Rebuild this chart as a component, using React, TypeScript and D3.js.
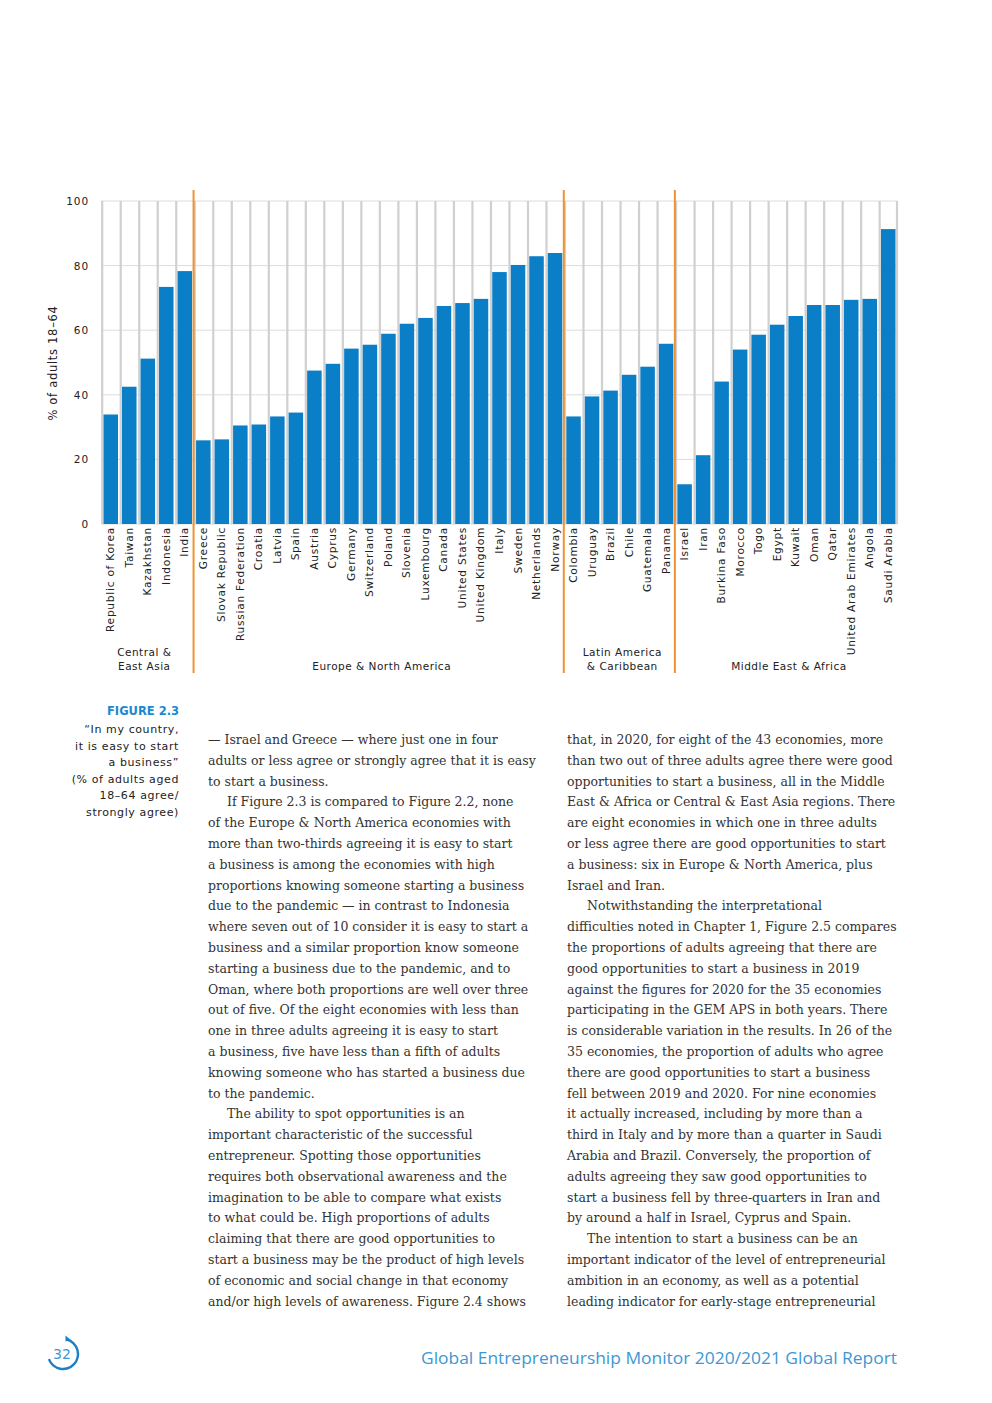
import React from "react";
import * as d3 from "d3";

const countries = [
  "Republic of Korea", "Taiwan", "Kazakhstan", "Indonesia", "India",
  "Greece", "Slovak Republic", "Russian Federation", "Croatia", "Latvia", "Spain", "Austria", "Cyprus", "Germany", "Switzerland", "Poland", "Slovenia", "Luxembourg", "Canada", "United States", "United Kingdom", "Italy", "Sweden", "Netherlands", "Norway",
  "Colombia", "Uruguay", "Brazil", "Chile", "Guatemala", "Panama",
  "Israel", "Iran", "Burkina Faso", "Morocco", "Togo", "Egypt", "Kuwait", "Oman", "Qatar", "United Arab Emirates", "Angola", "Saudi Arabia",
];
const values = [
  33.9, 42.5, 51.2, 73.4, 78.3,
  25.9, 26.2, 30.5, 30.8, 33.3, 34.5, 47.5, 49.6, 54.3, 55.5, 58.9, 62.0, 63.8, 67.5, 68.4, 69.7, 78.0, 80.2, 82.9, 83.9,
  33.3, 39.5, 41.3, 46.2, 48.7, 55.8,
  12.3, 21.3, 44.1, 54.0, 58.6, 61.7, 64.4, 67.8, 67.8, 69.4, 69.7, 91.3,
];
const regionCounts = [5, 20, 6, 12];
const regionLabels = [["Central &", "East Asia"], ["Europe & North America"], ["Latin America", "& Caribbean"], ["Middle East & Africa"]];
const yTicks = [0, 20, 40, 60, 80, 100];
const yTitle = "% of adults 18–64";

const captionTitle = "FIGURE 2.3";
const captionLines = ["\u201CIn my country,", "it is easy to start", "a business\u201D", "(% of adults aged", "18–64 agree/", "strongly agree)"];

const col1 = [
  "— Israel and Greece — where just one in four",
  "adults or less agree or strongly agree that it is easy",
  "to start a business.",
  "\tIf Figure 2.3 is compared to Figure 2.2, none",
  "of the Europe & North America economies with",
  "more than two-thirds agreeing it is easy to start",
  "a business is among the economies with high",
  "proportions knowing someone starting a business",
  "due to the pandemic — in contrast to Indonesia",
  "where seven out of 10 consider it is easy to start a",
  "business and a similar proportion know someone",
  "starting a business due to the pandemic, and to",
  "Oman, where both proportions are well over three",
  "out of five. Of the eight economies with less than",
  "one in three adults agreeing it is easy to start",
  "a business, five have less than a fifth of adults",
  "knowing someone who has started a business due",
  "to the pandemic.",
  "\tThe ability to spot opportunities is an",
  "important characteristic of the successful",
  "entrepreneur. Spotting those opportunities",
  "requires both observational awareness and the",
  "imagination to be able to compare what exists",
  "to what could be. High proportions of adults",
  "claiming that there are good opportunities to",
  "start a business may be the product of high levels",
  "of economic and social change in that economy",
  "and/or high levels of awareness. Figure 2.4 shows",
];
const col2 = [
  "that, in 2020, for eight of the 43 economies, more",
  "than two out of three adults agree there were good",
  "opportunities to start a business, all in the Middle",
  "East & Africa or Central & East Asia regions. There",
  "are eight economies in which one in three adults",
  "or less agree there are good opportunities to start",
  "a business: six in Europe & North America, plus",
  "Israel and Iran.",
  "\tNotwithstanding the interpretational",
  "difficulties noted in Chapter 1, Figure 2.5 compares",
  "the proportions of adults agreeing that there are",
  "good opportunities to start a business in 2019",
  "against the figures for 2020 for the 35 economies",
  "participating in the GEM APS in both years. There",
  "is considerable variation in the results. In 26 of the",
  "35 economies, the proportion of adults who agree",
  "there are good opportunities to start a business",
  "fell between 2019 and 2020. For nine economies",
  "it actually increased, including by more than a",
  "third in Italy and by more than a quarter in Saudi",
  "Arabia and Brazil. Conversely, the proportion of",
  "adults agreeing they saw good opportunities to",
  "start a business fell by three-quarters in Iran and",
  "by around a half in Israel, Cyprus and Spain.",
  "\tThe intention to start a business can be an",
  "important indicator of the level of entrepreneurial",
  "ambition in an economy, as well as a potential",
  "leading indicator for early-stage entrepreneurial",
];
const footerText = "Global Entrepreneurship Monitor 2020/2021 Global Report";
const pageNumber = "32";

const BLUE = "#0A7EC6";
const ORANGE = "#EE9330";
const GRID = "#D0D0D0";
const SANS = "'DejaVu Sans', sans-serif";
const SERIF = "'DejaVu Serif', serif";

export default function App() {
  const left = 101, right = 897, top = 201, bottom = 524;
  const x = d3.scaleBand<string>().domain(countries).range([left, right]).padding(0);
  const y = d3.scaleLinear().domain([0, 100]).range([bottom, top]);
  const bw = x.bandwidth();

  const bounds: number[] = [];
  let acc = 0;
  const regionSpans: [number, number][] = [];
  regionCounts.forEach((c) => {
    const start = left + acc * bw;
    acc += c;
    const end = left + acc * bw;
    regionSpans.push([start, end]);
    if (acc < countries.length) bounds.push(end);
  });

  const arc = d3.arc()({ innerRadius: 13.8, outerRadius: 16.2, startAngle: (15 * Math.PI) / 180, endAngle: (250 * Math.PI) / 180 } as any) as string;

  const lineH = 20.8;
  const textBase = 744;

  return (
    <svg width={992} height={1403} style={{ position: "absolute", left: 0, top: 0, background: "#fff" }}>
      {yTicks.map((t) => (
        <line key={"h" + t} x1={left} x2={right} y1={y(t)} y2={y(t)} stroke="#DCDCDC" strokeWidth={1} />
      ))}
      {countries.map((c) => (
        <line key={"v" + c} x1={(x(c) as number) + 1.2} x2={(x(c) as number) + 1.2} y1={top} y2={bottom} stroke={GRID} strokeWidth={2.2} />
      ))}
      <line x1={right} x2={right} y1={top} y2={bottom} stroke={GRID} strokeWidth={2.2} />
      {countries.map((c, i) => (
        <rect key={"b" + c} x={(x(c) as number) + 2.5} width={bw - 4} y={y(values[i])} height={y(0) - y(values[i])} fill={BLUE} />
      ))}
      {bounds.map((b, i) => (
        <line key={"o" + i} x1={b} x2={b} y1={190} y2={673} stroke={ORANGE} strokeWidth={2} />
      ))}
      {yTicks.map((t) => (
        <text key={"t" + t} x={89} y={y(t) + 4} textAnchor="end" fontFamily={SANS} fontSize={10.5} letterSpacing={0.9} fill="#222">{t}</text>
      ))}
      <text transform={`translate(57,${363}) rotate(-90)`} textAnchor="middle" fontFamily={SANS} fontSize={11.5} letterSpacing={0.7} fill="#222">{yTitle}</text>
      {countries.map((c) => {
        const cx = (x(c) as number) + bw / 2 + 4;
        return (
          <text key={"l" + c} transform={`translate(${cx},527) rotate(-90)`} textAnchor="end" fontFamily={SANS} fontSize={10.6} letterSpacing={0.75} fill="#222">{c}</text>
        );
      })}
      {regionLabels.map((lines, i) => {
        const cx = (regionSpans[i][0] + regionSpans[i][1]) / 2 + (i === 0 ? -3 : 3);
        return lines.map((ln, j) => (
          <text key={"r" + i + j} x={cx} y={670 - (lines.length - 1 - j) * 14} textAnchor="middle" fontFamily={SANS} fontSize={10.5} letterSpacing={0.5} fill="#222">{ln}</text>
        ));
      })}
      <text x={179} y={715} textAnchor="end" fontFamily={SANS} fontWeight="bold" fontSize={11.5} fill="#1B88CF" textLength={72} lengthAdjust="spacingAndGlyphs">{captionTitle}</text>
      {captionLines.map((ln, i) => (
        <text key={"c" + i} x={179} y={733 + i * 16.5} textAnchor="end" fontFamily={SANS} fontSize={11} letterSpacing={0.6} fill="#222">{ln}</text>
      ))}
      {col1.map((ln, i) => {
        const indent = ln.startsWith("\t");
        return (
          <text key={"a" + i} x={indent ? 227 : 208} y={textBase + i * lineH} fontFamily={SERIF} fontSize={12.5} fill="#333">{ln.replace("\t", "")}</text>
        );
      })}
      {col2.map((ln, i) => {
        const indent = ln.startsWith("\t");
        return (
          <text key={"b" + i} x={indent ? 587 : 567} y={textBase + i * lineH} fontFamily={SERIF} fontSize={12.5} fill="#333">{ln.replace("\t", "")}</text>
        );
      })}
      <g transform="translate(63,1354)">
        <path d={arc} fill="#1F7FC4" />
        <path d="M 2.5 -18.5 L 7.5 -14.2 L 2.5 -12.5 Z" fill="#1F7FC4" />
      </g>
      <text x={62} y={1359} textAnchor="middle" fontFamily={SANS} fontSize={14} fill="#3D97D3">{pageNumber}</text>
      <text x={897} y={1364} textAnchor="end" fontFamily="'Open Sans', sans-serif" fontSize={15.5} fill="#3D97D3" textLength={476} lengthAdjust="spacingAndGlyphs">{footerText}</text>
    </svg>
  );
}
